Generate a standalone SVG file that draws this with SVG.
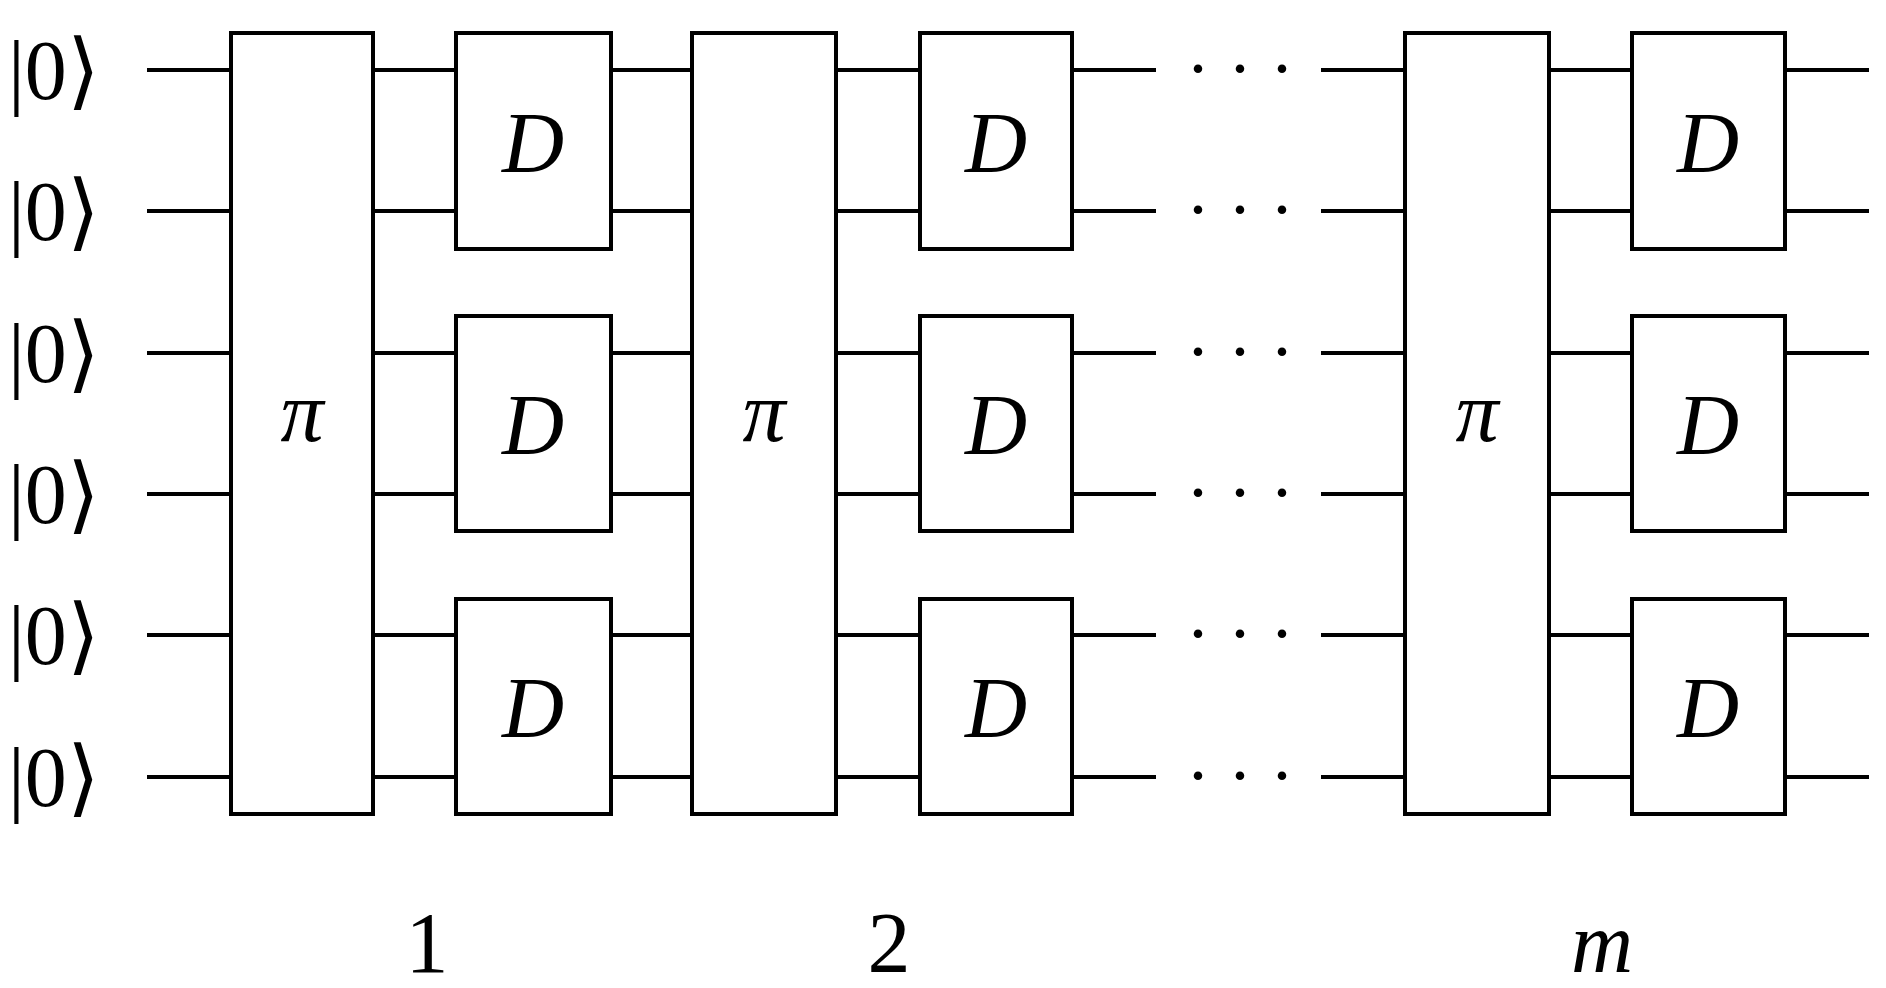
<svg xmlns="http://www.w3.org/2000/svg" width="1886" height="988" viewBox="0 0 1886 988">
<style>
.b{fill:#fff;stroke:#000;stroke-width:4}
.w{stroke:#000;stroke-width:4;fill:none}
.t{font-family:"Liberation Serif",serif;font-size:86px;text-anchor:middle}
.i{font-style:italic}
.k{font-family:"Liberation Serif",serif;font-size:84px}
</style>
<rect width="1886" height="988" fill="#fff"/>
<g id="connectors" class="w">
<path d="M147 70H1156M1321 70H1869M147 211H1156M1321 211H1869M147 353H1156M1321 353H1869M147 494H1156M1321 494H1869M147 635H1156M1321 635H1869M147 777H1156M1321 777H1869"/>
</g>
<g id="dots" font-family="Liberation Serif,serif" font-size="72" text-anchor="middle">
<text x="1240" y="93">· · ·</text><text x="1240" y="234">· · ·</text><text x="1240" y="376">· · ·</text><text x="1240" y="517">· · ·</text><text x="1240" y="658">· · ·</text><text x="1240" y="800">· · ·</text>
</g>
<g id="kets" class="k">
<text x="8" y="99">|0⟩</text><text x="8" y="240">|0⟩</text><text x="8" y="382">|0⟩</text><text x="8" y="523">|0⟩</text><text x="8" y="664">|0⟩</text><text x="8" y="806">|0⟩</text>
</g>
<g id="pi1"><rect class="b" x="231" y="33" width="142" height="781"/><text class="t i" x="302" y="441">π</text></g>
<g id="pi2"><rect class="b" x="692" y="33" width="144" height="781"/><text class="t i" x="764" y="441">π</text></g>
<g id="pi3"><rect class="b" x="1405" y="33" width="144" height="781"/><text class="t i" x="1477" y="441">π</text></g>
<g id="d1a"><rect class="b" x="456" y="33" width="155" height="216"/><text class="t i" x="533" y="172">D</text></g>
<g id="d1b"><rect class="b" x="456" y="316" width="155" height="215"/><text class="t i" x="533" y="454">D</text></g>
<g id="d1c"><rect class="b" x="456" y="599" width="155" height="215"/><text class="t i" x="533" y="737">D</text></g>
<g id="d2a"><rect class="b" x="920" y="33" width="152" height="216"/><text class="t i" x="996" y="172">D</text></g>
<g id="d2b"><rect class="b" x="920" y="316" width="152" height="215"/><text class="t i" x="996" y="454">D</text></g>
<g id="d2c"><rect class="b" x="920" y="599" width="152" height="215"/><text class="t i" x="996" y="737">D</text></g>
<g id="d3a"><rect class="b" x="1632" y="33" width="153" height="216"/><text class="t i" x="1708" y="172">D</text></g>
<g id="d3b"><rect class="b" x="1632" y="316" width="153" height="215"/><text class="t i" x="1708" y="454">D</text></g>
<g id="d3c"><rect class="b" x="1632" y="599" width="153" height="215"/><text class="t i" x="1708" y="737">D</text></g>
<g id="labels" class="t"><text x="427" y="972">1</text><text x="889" y="972">2</text><text class="i" x="1602" y="972">m</text></g>
</svg>
